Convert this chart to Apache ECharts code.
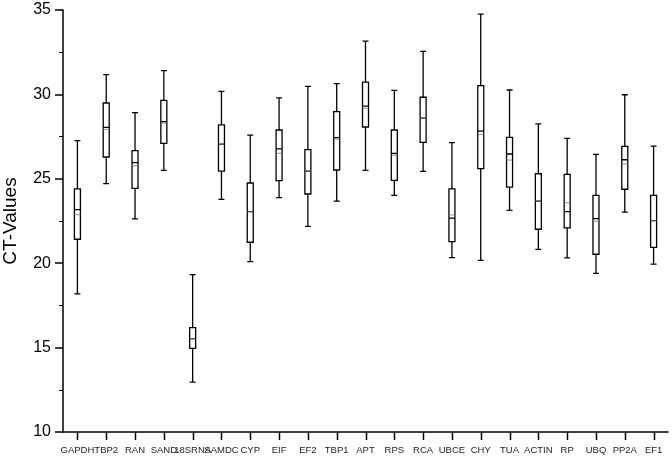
<!DOCTYPE html>
<html>
<head>
    <meta charset="utf-8" />
    <title></title>
    <script src="https://cdn.jsdelivr.net/npm/echarts@6/dist/echarts.min.js"></script>
    <style>
        html, body { width: 100%; height: 100%; margin: 0; padding: 0; background: #fff; }
        #main { width: 672px; height: 457px; }
    </style>
</head>
<body>
    <div id="main"></div>
<script type="text/javascript">
    var genes = ['GAPDH', 'TBP2', 'RAN', 'SAND', '18SRNA', 'SAMDC', 'CYP', 'EIF', 'EF2', 'TBP1', 'APT',
        'RPS', 'RCA', 'UBCE', 'CHY', 'TUA', 'ACTIN', 'RP', 'UBQ', 'PP2A', 'EF1'];
    // whisker low, Q1, median, Q3, whisker high
    var lows    = [18.18, 24.71, 22.62, 25.50, 12.96, 23.78, 20.09, 23.88, 22.18, 23.68, 25.50,
        24.02, 25.44, 20.33, 20.17, 23.13, 20.82, 20.31, 19.40, 23.03, 19.95];
    var q1s     = [21.42, 26.29, 24.43, 27.10, 14.96, 25.46, 21.24, 24.89, 24.10, 25.52, 28.07,
        24.91, 27.16, 21.28, 25.60, 24.51, 22.01, 22.09, 20.53, 24.38, 20.94];
    var medians = [23.17, 28.05, 25.96, 28.39, 15.53, 27.06, 23.05, 26.77, 25.46, 27.44, 29.31,
        26.51, 28.60, 22.67, 27.83, 26.47, 23.68, 23.05, 22.64, 26.13, 22.52];
    var q3s     = [24.40, 29.49, 26.67, 29.65, 16.18, 28.19, 24.75, 27.89, 26.73, 28.98, 30.73,
        27.89, 29.83, 24.40, 30.52, 27.46, 25.30, 25.26, 24.02, 26.92, 24.02];
    var highs   = [27.26, 31.17, 28.92, 31.41, 19.32, 30.18, 27.59, 29.79, 30.48, 30.64, 33.16,
        30.24, 32.55, 27.14, 34.75, 30.26, 28.25, 27.40, 26.45, 29.98, 26.94];
    var means   = [22.87, 27.93, 25.78, 28.30, 15.53, 27.06, 23.05, 26.51, 25.46, 27.35, 29.18,
        26.40, 28.60, 22.86, 27.63, 26.11, 23.68, 23.58, 22.48, 25.88, 22.52];

    var boxData = genes.map(function (g, i) {
        return [lows[i], q1s[i], medians[i], q3s[i], highs[i]];
    });

    var myChart = echarts.init(document.getElementById('main'));
    myChart.setOption({
        animation: false,
        grid: { left: 63, right: 4, top: 10, bottom: 25, outerBoundsMode: 'none' },
        xAxis: {
            type: 'category',
            data: genes,
            axisLine: { show: true, onZero: false, lineStyle: { color: '#000', width: 1.5 } },
            axisTick: { show: false },
            axisLabel: { interval: 0, fontSize: 9.5, color: '#222', margin: 13, fontFamily: 'Liberation Sans' }
        },
        yAxis: {
            type: 'value',
            min: 10,
            max: 35,
            interval: 5,
            name: 'CT-Values',
            nameLocation: 'middle',
            nameGap: 43,
            nameTextStyle: { fontSize: 19, color: '#000', fontFamily: 'Liberation Sans' },
            axisLine: { show: true, onZero: false, lineStyle: { color: '#000', width: 1.5 } },
            axisTick: { show: true, length: 8, lineStyle: { color: '#000', width: 1.5 } },
            minorTick: { show: true, splitNumber: 2, length: 4, lineStyle: { color: '#000', width: 1 } },
            axisLabel: { fontSize: 16, color: '#000', margin: 12, fontFamily: 'Liberation Sans' },
            splitLine: { show: false }
        },
        series: [{
            type: 'boxplot',
            data: boxData,
            boxWidth: [6, 6],
            itemStyle: { color: '#fff', borderColor: '#000', borderWidth: 1.3 },
            silent: true
        }, {
            type: 'scatter',
            data: means,
            symbol: 'rect',
            symbolSize: [6, 1],
            itemStyle: { color: '#777' },
            silent: true,
            z: 5
        }]
    });

    // category ticks under each box, placed through the axis scales
    var yBase = myChart.convertToPixel({ yAxisIndex: 0 }, 10);
    var ticks = genes.map(function (g) {
        var x = Math.round(myChart.convertToPixel({ xAxisIndex: 0 }, g)) + 0.5;
        return {
            type: 'line',
            silent: true,
            shape: { x1: x, y1: yBase, x2: x, y2: yBase + 8 },
            style: { stroke: '#000', lineWidth: 1.5 }
        };
    });
    myChart.setOption({ graphic: ticks });

    window.addEventListener('resize', function () {
        myChart.resize();
    });
</script>
</body>
</html>
